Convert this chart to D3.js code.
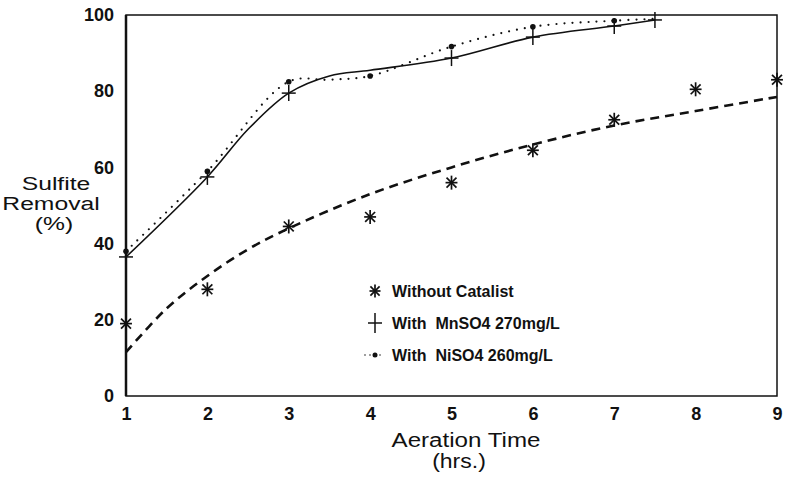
<!DOCTYPE html>
<html>
<head>
<meta charset="utf-8">
<script src="https://cdn.jsdelivr.net/npm/d3@7"></script>
<style>
  body { margin: 0; background: #fff; }
  text { font-family: "Liberation Sans", Arial, sans-serif; fill: #111; }
</style>
</head>
<body>
<div id="the_chart"></div>
<script>
// aeration time (hrs.)
var hoursAll = [1, 2, 3, 4, 5, 6, 7, 8, 9];
var withoutValues = [19, 28, 44.5, 47, 56, 64.5, 72.5, 80.5, 83];

var mnHours = [1, 2, 3, 5, 6, 7, 7.5];
var mnValues = [36.5, 57.5, 79.5, 88.7, 94.2, 97.1, 98.7];

var niHours = [1, 2, 3, 4, 5, 6, 7];
var niValues = [38, 59, 82.5, 84, 91.7, 96.9, 98.5];

// fitted curves as drawn in the figure
var withoutFitHours = [1, 1.5, 2, 2.5, 3, 4, 5, 6, 7, 8, 9];
var withoutFitValues = [11.5, 23, 31.5, 38.5, 44, 53, 60, 66, 71, 74.8, 78.5];
var mnFitHours = [1, 2, 2.5, 3, 3.5, 4, 5, 6, 7, 7.5];
var mnFitValues = [36.5, 57.5, 70, 79.5, 84, 85.5, 88.7, 94.2, 97.1, 98.7];
var niFitHours = [1, 2, 3, 3.5, 4, 5, 6, 7, 7.5];
var niFitValues = [38, 59, 82.5, 83, 84, 91.7, 96.9, 98.5, 99];

var xTicks = [1, 2, 3, 4, 5, 6, 7, 8, 9];
var yTicks = [0, 20, 40, 60, 80, 100];

var legendLabels = ["Without Catalist", "With  MnSO4 270mg/L", "With  NiSO4 260mg/L"];

var w = 788, h = 479;
var padLeft = 126, padRight = 777, padTop = 15, padBottom = 396;

var xscale = d3.scaleLinear().domain([1, 9]).range([padLeft, padRight]);
var yscale = d3.scaleLinear().domain([0, 100]).range([padBottom, padTop]);

var svg = d3.select("#the_chart").append("svg")
    .attr("width", w)
    .attr("height", h);

// frame
svg.append("rect")
    .attr("x", padLeft).attr("y", padTop)
    .attr("width", padRight - padLeft).attr("height", padBottom - padTop)
    .attr("fill", "none")
    .attr("stroke", "#111")
    .attr("stroke-width", 1.5);
svg.append("line")
    .attr("x1", padLeft).attr("x2", padLeft)
    .attr("y1", padTop).attr("y2", padBottom)
    .attr("stroke", "#111").attr("stroke-width", 2.5);

// axes, labels only
var yaxis = d3.axisLeft(yscale).tickValues(yTicks).tickSize(0).tickPadding(12);
svg.append("g")
    .attr("transform", "translate(" + padLeft + ",0)")
    .call(yaxis)
    .call(g => g.select(".domain").remove())
    .selectAll("text")
    .style("font-size", "18px")
    .style("font-weight", "bold")
    .attr("fill", "#111");

var xaxis = d3.axisBottom(xscale).tickValues(xTicks).tickSize(0).tickPadding(11)
    .tickFormat(d3.format("d"));
svg.append("g")
    .attr("transform", "translate(0," + padBottom + ")")
    .call(xaxis)
    .call(g => g.select(".domain").remove())
    .selectAll("text")
    .style("font-size", "18px")
    .style("font-weight", "bold")
    .attr("fill", "#111");

// axis titles (the scanned lettering is a bit wide, so stretch it)
svg.append("text")
    .attr("transform", "translate(466,447) scale(1.15,1)")
    .attr("text-anchor", "middle")
    .style("font-size", "21px")
    .text("Aeration Time");
svg.append("text")
    .attr("transform", "translate(459,468) scale(1.15,1)")
    .attr("text-anchor", "middle")
    .style("font-size", "20px")
    .text("(hrs.)");

["Sulfite", "Removal", "(%)"].forEach((t, i) => {
    svg.append("text")
        .attr("transform", "translate(" + [56, 51, 54][i] + "," + [190, 210, 230][i] + ") scale(1.3,1)")
        .attr("text-anchor", "middle")
        .style("font-size", "19px")
        .text(t);
});

// curves
var line = d3.line()
    .x(d => xscale(d[0]))
    .y(d => yscale(d[1]))
    .curve(d3.curveCatmullRom.alpha(0.5));

svg.append("path")
    .datum(d3.zip(withoutFitHours, withoutFitValues))
    .attr("d", line)
    .attr("fill", "none")
    .attr("stroke", "#111")
    .attr("stroke-width", 2.6)
    .attr("stroke-dasharray", "9,6");

svg.append("path")
    .datum(d3.zip(mnFitHours, mnFitValues))
    .attr("d", line)
    .attr("fill", "none")
    .attr("stroke", "#111")
    .attr("stroke-width", 1.6);

svg.append("path")
    .datum(d3.zip(niFitHours, niFitValues))
    .attr("d", line)
    .attr("fill", "none")
    .attr("stroke", "#111")
    .attr("stroke-width", 2.2)
    .attr("stroke-linecap", "round")
    .attr("stroke-dasharray", "0,8");

// markers
function asterisk(g, size) {
    [0, 45, 90, 135].forEach(a => {
        var s = a == 90 ? size * 0.85 : size;
        g.append("line")
            .attr("x1", 0).attr("y1", -s).attr("x2", 0).attr("y2", s)
            .attr("transform", "rotate(" + a + ")")
            .attr("stroke", "#111").attr("stroke-width", 1.7);
    });
}
function plus(g, hw, hh) {
    g.append("line").attr("x1", -hw).attr("x2", hw).attr("y1", 0).attr("y2", 0)
        .attr("stroke", "#111").attr("stroke-width", 1.5);
    g.append("line").attr("x1", 0).attr("x2", 0).attr("y1", -hh).attr("y2", hh)
        .attr("stroke", "#111").attr("stroke-width", 1.5);
}

svg.selectAll(".ast")
    .data(d3.zip(hoursAll, withoutValues))
    .enter().append("g")
    .attr("class", "ast")
    .attr("transform", d => "translate(" + xscale(d[0]) + "," + yscale(d[1]) + ")")
    .each(function () { asterisk(d3.select(this), 7); });

svg.selectAll(".pls")
    .data(d3.zip(mnHours, mnValues))
    .enter().append("g")
    .attr("class", "pls")
    .attr("transform", d => "translate(" + xscale(d[0]) + "," + yscale(d[1]) + ")")
    .each(function () { plus(d3.select(this), 7, 8); });

svg.selectAll(".dot")
    .data(d3.zip(niHours, niValues))
    .enter().append("circle")
    .attr("class", "dot")
    .attr("cx", d => xscale(d[0]))
    .attr("cy", d => yscale(d[1]))
    .attr("r", 2.8)
    .attr("fill", "#111");

// legend
var legend = svg.append("g").attr("transform", "translate(375,291)");
legendLabels.forEach((t, i) => {
    var row = legend.append("g").attr("transform", "translate(0," + (i * 32) + ")");
    if (i == 0) asterisk(row, 6.5);
    if (i == 1) plus(row, 7, 10);
    if (i == 2) {
        row.append("line").attr("x1", -10).attr("x2", 9).attr("y1", 0).attr("y2", 0)
            .attr("stroke", "#111").attr("stroke-width", 1.5)
            .attr("stroke-linecap", "round").attr("stroke-dasharray", "0,5");
        row.append("circle").attr("r", 2.5).attr("fill", "#111");
    }
    row.append("text")
        .attr("x", 17).attr("y", 6)
        .style("font-size", "16px")
        .style("font-weight", "bold")
        .style("white-space", "pre")
        .text(t);
});
</script>
</body>
</html>
